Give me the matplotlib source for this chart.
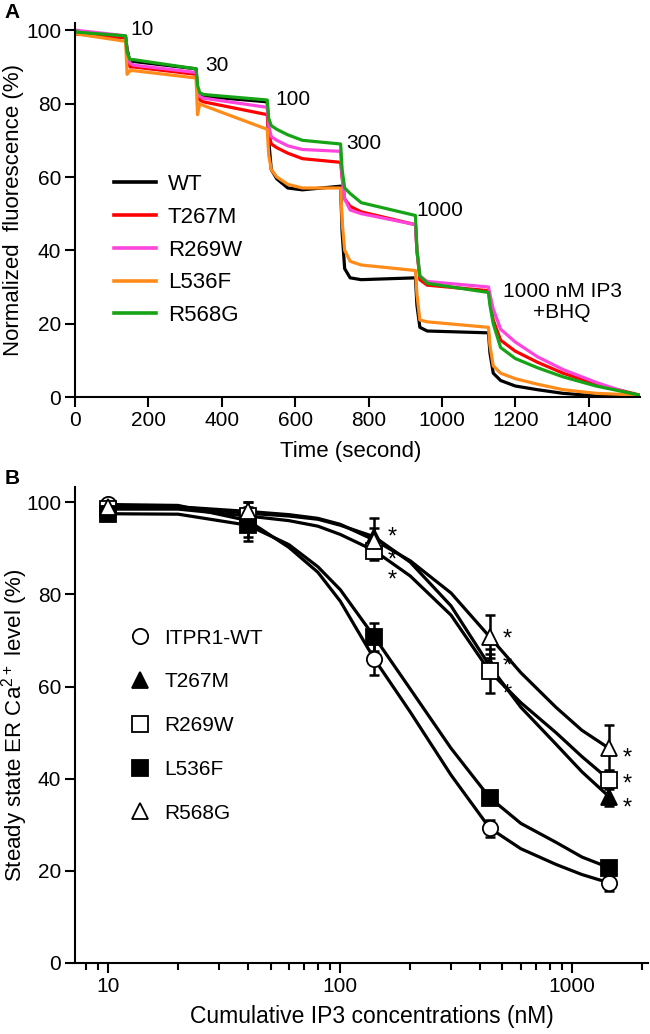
import matplotlib
matplotlib.use('Agg')
import matplotlib.pyplot as plt
from matplotlib.lines import Line2D
from matplotlib.ticker import LogLocator, NullFormatter, FixedLocator
import numpy as np

plt.rcParams['font.family'] = ['Liberation Sans', 'DejaVu Sans']
plt.rcParams['mathtext.default'] = 'regular'

# ---------- Panel A: fluorescence traces ----------
t_knots = [0, 5, 138, 142, 150, 160, 330, 334, 340, 350, 524, 528, 535, 550, 580, 620,
           724, 728, 735, 750, 780, 928, 932, 940, 960, 1127, 1131, 1140, 1160, 1200,
           1260, 1330, 1420, 1540]

trace_wt = [100, 99, 98, 95, 91, 91.5, 89.5, 84, 82, 82, 80.5, 70, 62, 59.5, 57, 56.5,
            57.5, 45, 35, 32.5, 32, 32.5, 25, 19, 18, 17.5, 12, 6.5, 4.5, 3,
            2, 1, 0.3, 0]
trace_t267m = [100, 99, 98, 93, 90, 90, 88, 83, 81, 80.5, 77, 72, 69, 68, 66.5, 65,
               64, 60, 54, 52, 50.5, 47, 40, 32, 30.5, 29, 26, 21, 15.5, 12.5,
               9.5, 6.5, 3.5, 0.5]
trace_r269w = [100, 100, 98.5, 94, 91, 90.5, 88.5, 84, 82, 81.5, 79, 74, 71, 70, 68.5, 67.5,
               67, 60, 54, 51, 50, 47, 40, 33, 31.5, 30, 28, 24, 18.5, 15,
               11, 7.5, 4, 0]
trace_l536f = [100, 99, 97, 88, 89, 89, 87, 77, 80, 79.5, 73, 66, 62, 60, 58, 57,
               57, 48, 40, 37, 36, 34.5, 28, 21, 20.5, 19, 14, 8.5, 6.5, 5,
               3.5, 2, 1, 0.5]
trace_r568g = [100, 99.5, 98.5, 94, 92, 92, 89.5, 85, 83, 82.5, 81, 76, 74, 73, 71.5, 70,
               69, 62, 57, 55.5, 53, 49.5, 40, 33, 31, 28.5, 25, 20, 13.5, 10.5,
               8, 5.5, 3, 0.5]

trace_names = ['WT', 'T267M', 'R269W', 'L536F', 'R568G']
trace_colors = ['#000000', '#ff0000', '#ff44dd', '#ff8c1a', '#16a316']

dose_labels = ['10', '30', '100', '300', '1000']

# ---------- Panel B: dose-response ----------
ip3_conc = [10, 40, 140, 440, 1440]
b_names = ['ITPR1-WT', 'T267M', 'R269W', 'L536F', 'R568G']
b_wt = [99.7, 95.5, 65.9, 29.2, 17.4]
b_t267m = [98.8, 97.5, 92.5, 64.5, 36.1]
b_r269w = [98.5, 97.0, 89.5, 63.3, 39.8]
b_l536f = [97.5, 95.0, 70.8, 35.9, 20.7]
b_r568g = [99.0, 98.0, 91.5, 70.8, 46.6]

err_wt = [0.8, 3.0, 3.5, 1.8, 1.7]
err_t267m = [0.8, 2.5, 4.0, 2.5, 2.0]
err_r269w = [0.8, 2.0, 2.0, 4.8, 2.0]
err_l536f = [1.0, 3.5, 3.0, 1.0, 1.0]
err_r568g = [0.8, 2.0, 3.0, 4.7, 5.0]

# fitted curves
curve_x = [10, 20, 40, 60, 80, 100, 140, 200, 300, 440, 600, 850, 1100, 1440]
fit_wt = [99.5, 99.3, 96.0, 90.2, 84.8, 78.5, 66.0, 54.5, 40.8, 29.3, 24.8, 21.4, 19.2, 17.4]
fit_l536f = [97.5, 97.4, 95.0, 90.8, 86.0, 81.0, 70.8, 59.5, 46.6, 35.9, 30.3, 26.2, 23.0, 20.7]
fit_r568g = [99.0, 99.0, 98.0, 97.3, 96.5, 95.2, 91.8, 87.3, 80.3, 70.8, 63.0, 55.5, 50.5, 46.6]
fit_t267m = [99.0, 99.0, 97.6, 97.0, 96.3, 95.0, 92.5, 87.0, 77.5, 64.5, 55.5, 47.5, 41.5, 36.1]
fit_r269w = [98.5, 98.5, 97.0, 96.0, 94.8, 93.0, 89.5, 84.0, 75.5, 63.3, 56.5, 50.0, 44.8, 39.8]

star_x = [140, 140, 140, 440, 440, 440, 1440, 1440, 1440]
star_y = [93.6, 88.6, 84.2, 71.5, 65.5, 59.5, 45.6, 40.0, 34.8]

fig = plt.figure(figsize=(6.5, 10.34), dpi=100)
W, H = 650, 1034

# ================= Panel A =================
axA = fig.add_axes([75 / W, 1 - 397 / H, 565 / W, 374 / H])
traces = [trace_wt, trace_t267m, trace_r269w, trace_l536f, trace_r568g]
for name, col, tr in zip(trace_names, trace_colors, traces):
    axA.plot(t_knots, tr, color=col, lw=2.3, label=name, solid_joinstyle='round')

axA.set_xlim(0, 1540)
axA.set_ylim(0, 102)
axA.set_xticks(range(0, 1401, 200))
axA.set_yticks(range(0, 101, 20))
for s in ['top', 'right']:
    axA.spines[s].set_visible(False)
for s in ['left', 'bottom']:
    axA.spines[s].set_linewidth(1.5)
axA.tick_params(direction='out', length=7, width=1.5, labelsize=15, pad=3)

# concentration labels
axA.text(150, 100.3, dose_labels[0], fontsize=15, ha='left', va='center')
axA.text(354, 90.5, dose_labels[1], fontsize=15, ha='left', va='center')
axA.text(547, 81.2, dose_labels[2], fontsize=15, ha='left', va='center')
axA.text(740, 69.2, dose_labels[3], fontsize=15, ha='left', va='center')
axA.text(931, 50.9, dose_labels[4], fontsize=15, ha='left', va='center')
axA.text(1328, 26.0, '1000 nM IP3\n+BHQ', fontsize=15, ha='center', va='center',
         linespacing=1.15)

leg_handles = [Line2D([0], [0], color=c, lw=2.6) for c in trace_colors]
axA.legend(leg_handles, trace_names, loc='upper left', bbox_to_anchor=(0.054, 0.62),
           frameon=False, fontsize=16, handlelength=1.85, handletextpad=0.55,
           labelspacing=0.53, borderaxespad=0)

fig.text(13.5 / W, 1 - 210 / H, 'Normalized  fluorescence (%)', rotation=90,
         ha='center', va='center', fontsize=16)
fig.text(351 / W, 1 - 452 / H, 'Time (second)', ha='center', va='center', fontsize=16)
fig.text(12 / W, 1 - 13 / H, 'A', ha='center', va='center', fontsize=15, fontweight='bold')

# ================= Panel B =================
axB = fig.add_axes([75 / W, 1 - 963 / H, 573 / W, 476 / H])
axB.set_xscale('log')

fits = [fit_wt, fit_t267m, fit_r269w, fit_l536f, fit_r568g]
for f in fits:
    axB.plot(curve_x, f, color='black', lw=2.3, zorder=2, solid_capstyle='round',
             solid_joinstyle='round')

vals = [b_wt, b_t267m, b_r269w, b_l536f, b_r568g]
errs = [err_wt, err_t267m, err_r269w, err_l536f, err_r568g]
markers = ['o', '^', 's', 's', '^']
faces = ['white', 'black', 'white', 'black', 'white']
msizes = [11, 11.5, 11, 12, 11.5]
for v, e in zip(vals, errs):
    axB.errorbar(ip3_conc, v, yerr=e, fmt='none', ecolor='black', elinewidth=1.8,
                 capsize=3.6, capthick=1.8, zorder=3)
for v, m, fc, ms in zip(vals, markers, faces, msizes):
    axB.plot(ip3_conc, v, linestyle='none', marker=m, ms=ms, mfc=fc, mec='black',
             mew=1.3, zorder=4)

for sx, sy in zip(star_x, star_y):
    axB.annotate('*', (sx, sy), xytext=(13, -4), textcoords='offset points',
                 ha='center', va='center', fontsize=17)

axB.set_xlim(7.18, 2120)
axB.set_ylim(0, 103.3)
axB.set_yticks(range(0, 101, 20))
axB.xaxis.set_major_locator(FixedLocator([10, 100, 1000]))
axB.xaxis.set_minor_locator(LogLocator(base=10, subs=np.arange(2, 10), numticks=20))
axB.xaxis.set_minor_formatter(NullFormatter())
axB.set_xticklabels(['10', '100', '1000'])
for s in ['top', 'right']:
    axB.spines[s].set_visible(False)
for s in ['left', 'bottom']:
    axB.spines[s].set_linewidth(1.5)
axB.tick_params(which='major', direction='out', length=7, width=1.5, labelsize=15, pad=3)
axB.tick_params(which='minor', direction='out', length=5, width=1.5)

b_handles = [Line2D([0], [0], linestyle='none', marker=m, ms=ms, mfc=fc, mec='black', mew=1.3)
             for m, fc, ms in zip(markers, faces, msizes)]
axB.legend(b_handles, b_names, loc='upper left', bbox_to_anchor=(0.08, 0.72),
           frameon=False, fontsize=15, handlelength=1.0, handletextpad=0.7,
           labelspacing=1.19, borderaxespad=0)

fig.text(15 / W, 1 - 725 / H, 'Steady state ER Ca$^{2+}$ level (%)', rotation=90,
         ha='center', va='center', fontsize=16)
fig.text(372 / W, 1 - 1016 / H, 'Cumulative IP3 concentrations (nM)', ha='center',
         va='center', fontsize=16.5)
fig.text(12 / W, 1 - 478 / H, 'B', ha='center', va='center', fontsize=15, fontweight='bold')

fig.savefig('out.png', dpi=100)
